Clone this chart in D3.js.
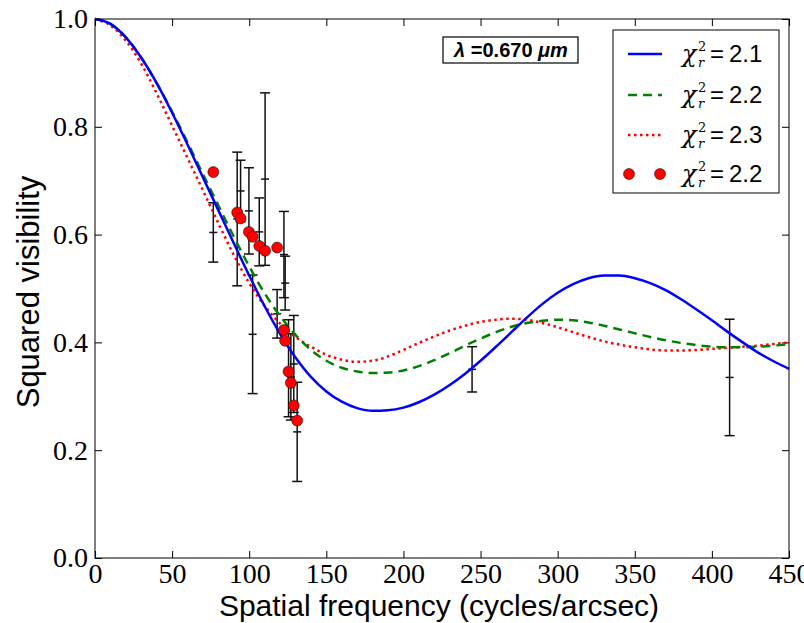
<!DOCTYPE html>
<html>
<head>
<meta charset="utf-8">
<script src="https://cdn.jsdelivr.net/npm/d3@7"></script>
<style>
  body { margin: 0; background: #fff; }
  svg { display: block; }
  .tick text { font-family: "Liberation Serif", serif; font-size: 28px; fill: #000; }
  .tick line { stroke: #000; stroke-width: 1; }
</style>
</head>
<body>
<script>
var w = 804;
var h = 623;
var margin = {top: 19, right: 15, bottom: 65, left: 95};

// model curves (spatial frequency -> squared visibility)
var freq = [0, 10, 20, 30, 40, 50, 60, 70, 80, 90, 100, 110, 120, 130, 140, 150, 160, 170, 180, 190,
  200, 210, 220, 230, 240, 250, 260, 270, 280, 290, 300, 310, 320, 330, 340, 350, 360, 370, 380, 390,
  400, 410, 420, 430, 440, 450];
var blueV = [1.0, 0.991, 0.966, 0.928, 0.881, 0.826, 0.767, 0.706, 0.645, 0.584, 0.524, 0.467, 0.416, 0.372, 0.336, 0.309, 0.29, 0.278, 0.273, 0.274,
  0.279, 0.289, 0.303, 0.321, 0.342, 0.366, 0.392, 0.419, 0.446, 0.471, 0.492, 0.508, 0.519, 0.524, 0.524, 0.519, 0.51, 0.497, 0.48, 0.461,
  0.441, 0.42, 0.4, 0.381, 0.365, 0.351];
var greenV = [1.0, 0.991, 0.966, 0.928, 0.881, 0.828, 0.771, 0.712, 0.654, 0.596, 0.541, 0.491, 0.449, 0.414, 0.386, 0.366, 0.353, 0.346, 0.343, 0.344,
  0.348, 0.356, 0.367, 0.38, 0.394, 0.407, 0.419, 0.429, 0.436, 0.44, 0.442, 0.441, 0.437, 0.431, 0.424, 0.417, 0.41, 0.404, 0.399, 0.395,
  0.392, 0.391, 0.391, 0.392, 0.394, 0.397];
var redV = [1.0, 0.988, 0.96, 0.917, 0.862, 0.802, 0.742, 0.682, 0.621, 0.562, 0.51, 0.468, 0.435, 0.41, 0.392, 0.377, 0.368, 0.364, 0.366, 0.374,
  0.386, 0.399, 0.411, 0.422, 0.431, 0.438, 0.442, 0.444, 0.442, 0.436, 0.428, 0.419, 0.41, 0.402, 0.396, 0.391, 0.387, 0.385, 0.385, 0.386,
  0.388, 0.39, 0.392, 0.394, 0.397, 0.4];

// observations with error bars
var obsFreq = [76.7, 92.2, 94.4, 99.8, 102.2, 106.5, 110.3, 118.1, 122.5, 123.3, 125.5, 127, 128.9, 131.1, 244.5, 411.5];
var obsV = [0.604, 0.629, 0.681, 0.644, 0.415, 0.605, 0.703, 0.453, 0.563, 0.51, 0.352, 0.336, 0.36, 0.234, 0.35, 0.335];
var obsErr = [0.055, 0.124, 0.057, 0.08, 0.11, 0.063, 0.16, 0.045, 0.08, 0.05, 0.09, 0.08, 0.09, 0.092, 0.042, 0.108];

// model values at the observed frequencies (red circles)
var dotFreq = [76.7, 92.2, 94.4, 99.8, 102.2, 106.5, 110.3, 118.1, 122.5, 123.3, 125.5, 127, 128.9, 131.1];
var dotV = [0.716, 0.641, 0.63, 0.605, 0.596, 0.579, 0.57, 0.576, 0.423, 0.403, 0.346, 0.325, 0.283, 0.255];

var xTicks = [0, 50, 100, 150, 200, 250, 300, 350, 400, 450];
var yTicks = [0, 0.2, 0.4, 0.6, 0.8, 1.0];
var legendLabels = ["2.1", "2.2", "2.3", "2.2"];
var lambdaText = "0.670";

var svg = d3.select("body").append("svg")
    .attr("width", w)
    .attr("height", h);

var x = d3.scaleLinear()
  .domain([0, 450])
  .range([margin.left, w - margin.right]);

var y = d3.scaleLinear()
  .domain([0, 1])
  .range([h - margin.bottom, margin.top]);

// axes, ticks pointing inwards on all four sides
svg.append("g")
  .attr("transform", "translate(0," + y(0) + ")")
  .call(d3.axisBottom(x).tickValues(xTicks).tickSize(-7).tickPadding(5).tickFormat(d3.format("d")));
svg.append("g")
  .attr("transform", "translate(0," + y(1) + ")")
  .call(d3.axisTop(x).tickValues(xTicks).tickSize(-7).tickFormat(""));
svg.append("g")
  .attr("transform", "translate(" + x(0) + ",0)")
  .call(d3.axisLeft(y).tickValues(yTicks).tickSize(-7).tickPadding(7).tickFormat(d3.format(".1f")));
svg.append("g")
  .attr("transform", "translate(" + x(450) + ",0)")
  .call(d3.axisRight(y).tickValues(yTicks).tickSize(-7).tickFormat(""));
svg.selectAll(".domain").remove();

// error bars
var bars = svg.append("g").attr("stroke", "#111").attr("stroke-width", 1.5);
obsFreq.forEach(function(f, i) {
  var cx = x(f);
  var lo = y(obsV[i] - obsErr[i]);
  var hi = y(obsV[i] + obsErr[i]);
  bars.append("line").attr("x1", cx).attr("x2", cx).attr("y1", lo).attr("y2", hi);
  bars.append("line").attr("x1", cx - 5).attr("x2", cx + 5).attr("y1", lo).attr("y2", lo);
  bars.append("line").attr("x1", cx - 5).attr("x2", cx + 5).attr("y1", hi).attr("y2", hi);
  bars.append("line").attr("x1", cx - 4).attr("x2", cx + 4).attr("y1", y(obsV[i])).attr("y2", y(obsV[i]));
});

var line = d3.line()
  .x(function(d) { return x(d[0]); })
  .y(function(d) { return y(d[1]); })
  .curve(d3.curveMonotoneX);

var series = [
  {vals: redV, color: "#ff0000", dash: "2.5,3.5"},
  {vals: greenV, color: "#008000", dash: "9,6"},
  {vals: blueV, color: "#0000ff", dash: null}
];
series.forEach(function(s) {
  svg.append("path")
    .datum(d3.zip(freq, s.vals))
    .attr("d", line)
    .attr("fill", "none")
    .attr("stroke", s.color)
    .attr("stroke-width", 2.5)
    .attr("stroke-dasharray", s.dash);
});

svg.append("g").selectAll("circle")
  .data(d3.zip(dotFreq, dotV))
  .enter().append("circle")
  .attr("cx", function(d) { return x(d[0]); })
  .attr("cy", function(d) { return y(d[1]); })
  .attr("r", 5.5)
  .attr("fill", "#ff0000")
  .attr("stroke", "#000")
  .attr("stroke-width", 0.5);

// frame
svg.append("rect")
  .attr("x", x(0)).attr("y", y(1))
  .attr("width", x(450) - x(0)).attr("height", y(0) - y(1))
  .attr("fill", "none").attr("stroke", "#000").attr("stroke-width", 1);

// wavelength box
svg.append("rect")
  .attr("x", 443).attr("y", 37).attr("width", 135).attr("height", 26)
  .attr("fill", "#fff").attr("stroke", "#000").attr("stroke-width", 1.2);
var lt = svg.append("text")
  .attr("x", 511).attr("y", 57)
  .attr("text-anchor", "middle")
  .attr("font-family", "Liberation Sans, sans-serif")
  .attr("font-weight", "bold")
  .attr("font-size", 20);
lt.append("tspan").attr("font-style", "italic").text("λ");
lt.append("tspan").text(" =" + lambdaText + " ");
lt.append("tspan").attr("font-style", "italic").text("μm");

// legend
var lg = svg.append("g");
lg.append("rect")
  .attr("x", 613).attr("y", 30).attr("width", 166).attr("height", 163)
  .attr("fill", "#fff").attr("stroke", "#000").attr("stroke-width", 1);
var rowY = [54, 95, 135, 174];
series.slice().reverse().forEach(function(s, i) {
  lg.append("line")
    .attr("x1", 628).attr("x2", 662)
    .attr("y1", rowY[i]).attr("y2", rowY[i])
    .attr("stroke", s.color).attr("stroke-width", 2.5)
    .attr("stroke-dasharray", s.dash);
});
[629, 660].forEach(function(cx) {
  lg.append("circle").attr("cx", cx).attr("cy", rowY[3]).attr("r", 5.5)
    .attr("fill", "#ff0000").attr("stroke", "#000").attr("stroke-width", 0.5);
});
legendLabels.forEach(function(lab, i) {
  var by = rowY[i] + 8;
  lg.append("text").attr("x", 682).attr("y", by)
    .attr("font-family", "DejaVu Serif, serif").attr("font-style", "italic").attr("font-size", 24)
    .text("χ");
  lg.append("text").attr("x", 698).attr("y", by - 11)
    .attr("font-family", "DejaVu Serif, serif").attr("font-size", 13)
    .text("2");
  lg.append("text").attr("x", 698).attr("y", by + 5)
    .attr("font-family", "DejaVu Serif, serif").attr("font-style", "italic").attr("font-size", 13)
    .text("r");
  lg.append("text").attr("x", 710).attr("y", by)
    .attr("font-family", "Liberation Sans, sans-serif").attr("font-size", 24)
    .text("=");
  lg.append("text").attr("x", 729).attr("y", by)
    .attr("font-family", "Liberation Sans, sans-serif").attr("font-size", 24)
    .text(lab);
});

// axis titles
svg.append("text")
  .attr("x", 439).attr("y", 616)
  .attr("text-anchor", "middle")
  .attr("font-family", "Liberation Sans, sans-serif")
  .attr("font-size", 30)
  .text("Spatial frequency (cycles/arcsec)");
svg.append("text")
  .attr("transform", "translate(39," + 292 + ") rotate(-90)")
  .attr("text-anchor", "middle")
  .attr("font-family", "Liberation Sans, sans-serif")
  .attr("font-size", 31)
  .text("Squared visibility");
</script>
</body>
</html>
